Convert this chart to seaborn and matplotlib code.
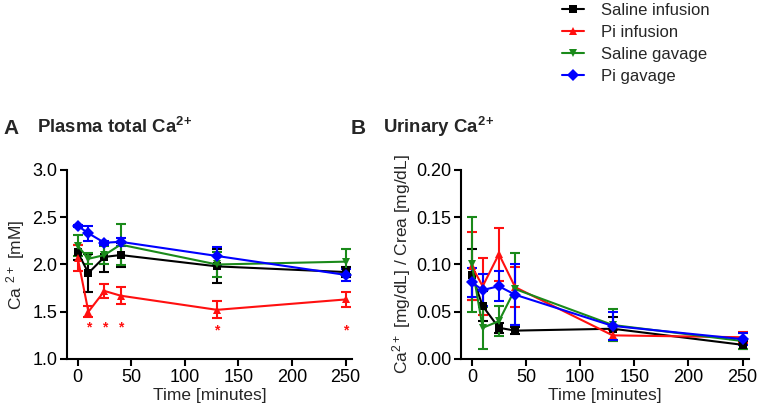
import matplotlib
matplotlib.use("Agg")
import matplotlib.pyplot as plt
import pandas as pd
import seaborn as sns

# sampling times (minutes)
times = [0, 10, 25, 40, 130, 250]
groups = ["Saline infusion", "Pi infusion", "Saline gavage", "Pi gavage"]

# Plasma total Ca2+ [mM], mean and SEM per group
plasma_saline_inf = [2.13, 1.91, 2.08, 2.10, 1.98, 1.92]
plasma_saline_inf_err = [0.08, 0.20, 0.16, 0.13, 0.18, 0.05]
plasma_pi_inf = [2.07, 1.50, 1.72, 1.67, 1.52, 1.63]
plasma_pi_inf_err = [0.14, 0.06, 0.07, 0.09, 0.09, 0.08]
plasma_saline_gav = [2.20, 2.06, 2.10, 2.21, 2.00, 2.03]
plasma_saline_gav_err = [0.11, 0.06, 0.10, 0.22, 0.13, 0.13]
plasma_pi_gav = [2.41, 2.33, 2.23, 2.24, 2.09, 1.89]
plasma_pi_gav_err = [0.01, 0.08, 0.02, 0.04, 0.10, 0.06]

# Urinary Ca2+/Crea, mean and SEM per group
urine_saline_inf = [0.089, 0.056, 0.033, 0.030, 0.032, 0.015]
urine_saline_inf_err = [0.027, 0.016, 0.005, 0.004, 0.012, 0.004]
urine_pi_inf = [0.098, 0.077, 0.111, 0.076, 0.025, 0.023]
urine_pi_inf_err = [0.036, 0.030, 0.028, 0.021, 0.006, 0.006]
urine_saline_gav = [0.100, 0.033, 0.040, 0.074, 0.036, 0.019]
urine_saline_gav_err = [0.050, 0.022, 0.016, 0.038, 0.017, 0.008]
urine_pi_gav = [0.081, 0.073, 0.077, 0.068, 0.035, 0.021]
urine_pi_gav_err = [0.015, 0.017, 0.016, 0.032, 0.015, 0.006]

# significance stars (Pi infusion vs saline)
star_times = [10, 25, 40, 130, 250]
star_y = [1.33, 1.33, 1.33, 1.30, 1.30]

colors = {"Saline infusion": "black", "Pi infusion": "#ff1010",
          "Saline gavage": "#1a8a1a", "Pi gavage": "#0000ff"}
markers = {"Saline infusion": "s", "Pi infusion": "^",
           "Saline gavage": "v", "Pi gavage": "D"}

plasma = {"Saline infusion": (plasma_saline_inf, plasma_saline_inf_err),
          "Pi infusion": (plasma_pi_inf, plasma_pi_inf_err),
          "Saline gavage": (plasma_saline_gav, plasma_saline_gav_err),
          "Pi gavage": (plasma_pi_gav, plasma_pi_gav_err)}
urine = {"Saline infusion": (urine_saline_inf, urine_saline_inf_err),
         "Pi infusion": (urine_pi_inf, urine_pi_inf_err),
         "Saline gavage": (urine_saline_gav, urine_saline_gav_err),
         "Pi gavage": (urine_pi_gav, urine_pi_gav_err)}


def to_long(d):
    rows = []
    for g in groups:
        mean, err = d[g]
        for t, m, e in zip(times, mean, err):
            rows.append({"Time": t, "Value": m, "Err": e, "Group": g})
    return pd.DataFrame(rows)


sns.set_style("ticks")
plt.rcParams["font.family"] = ["Liberation Sans", "DejaVu Sans"]
plt.rcParams["mathtext.default"] = "regular"
plt.rcParams["axes.linewidth"] = 1.5
plt.rcParams["xtick.major.width"] = 1.5
plt.rcParams["ytick.major.width"] = 1.5
plt.rcParams["xtick.major.size"] = 5
plt.rcParams["ytick.major.size"] = 5
plt.rcParams["xtick.color"] = "black"
plt.rcParams["ytick.color"] = "black"
plt.rcParams["axes.edgecolor"] = "black"

fig = plt.figure(figsize=(7.62, 4.13), dpi=100)
axA = fig.add_axes([0.0879, 0.1308, 0.374, 0.4576])
axB = fig.add_axes([0.605, 0.1308, 0.378, 0.4576])


def draw(ax, d):
    df = to_long(d)
    for g in groups:
        sub = df[df["Group"] == g]
        ax.errorbar(sub["Time"], sub["Value"], yerr=sub["Err"], fmt="none",
                    ecolor=colors[g], elinewidth=1.5, capsize=3.5, capthick=1.5)
    sns.lineplot(data=df, x="Time", y="Value", hue="Group", style="Group",
                 palette=colors, markers=markers, dashes=False, markersize=6,
                 markeredgewidth=0, linewidth=1.5, ax=ax, legend=True)
    sns.despine(ax=ax)
    ax.set_xlim(-10, 256)
    ax.set_xticks([0, 50, 100, 150, 200, 250])
    ax.tick_params(labelsize=13, pad=2)
    ax.set_xlabel("Time [minutes]", fontsize=12.5, labelpad=2)


draw(axA, plasma)
axA.set_ylim(1.0, 3.0)
axA.set_yticks([1.0, 1.5, 2.0, 2.5, 3.0])
axA.set_ylabel("Ca $^{2+}$ [mM]", fontsize=12.5, labelpad=4)
axA.spines["left"].set_bounds(1.0, 3.0)
for t, y in zip(star_times, star_y):
    axA.text(t, y, "*", color=colors["Pi infusion"], ha="center", va="center",
             fontsize=10, fontweight="bold")

draw(axB, urine)
axB.set_ylim(0.0, 0.2)
axB.set_yticks([0.0, 0.05, 0.10, 0.15, 0.20])
axB.set_yticklabels(["0.00", "0.05", "0.10", "0.15", "0.20"])
axB.set_ylabel("Ca$^{2+}$ [mg/dL] / Crea [mg/dL]", fontsize=12.5, labelpad=2)

handles, labels = axA.get_legend_handles_labels()
axA.get_legend().remove()
axB.get_legend().remove()
fig.legend(handles, labels, loc="upper left", bbox_to_anchor=(0.738, 0.992),
           frameon=False, fontsize=12, handlelength=1.3, handletextpad=1.0,
           labelspacing=0.42, borderpad=0, borderaxespad=0)

# panel titles
fig.text(0.004, 0.675, "A", fontsize=15, fontweight="bold", va="baseline")
fig.text(0.049, 0.678, "Plasma total Ca$^{2\!+}$", fontsize=13.4, fontweight="bold", va="baseline")
fig.text(0.460, 0.675, "B", fontsize=15, fontweight="bold", va="baseline")
fig.text(0.503, 0.678, "Urinary Ca$^{2\!+}$", fontsize=13.4, fontweight="bold", va="baseline")

fig.savefig("out.png", dpi=100)
